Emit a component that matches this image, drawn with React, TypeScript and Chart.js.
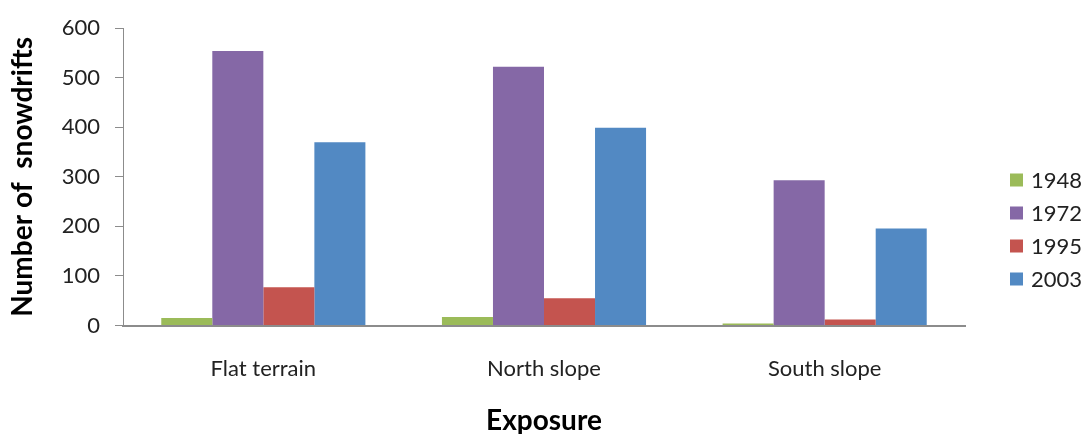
import React, { useEffect, useRef } from "react";
import { Chart, registerables } from "chart.js";

Chart.register(...registerables);

const categories = ["Flat terrain", "North slope", "South slope"];
const seriesLabels = ["1948", "1972", "1995", "2003"];
const values1948 = [15, 17, 4];
const values1972 = [554, 522, 293];
const values1995 = [77, 55, 12];
const values2003 = [370, 399, 196];
const seriesColors = ["#9BBB59", "#8568A6", "#C4544F", "#5289C3"];
const yTicks = [0, 100, 200, 300, 400, 500, 600];

const FONT = "Lato, 'Open Sans', sans-serif";
const AXIS_COLOR = "#8c8c8c";

// Vertical legend drawn in the space to the right of the plot
const sideLegend = {
  id: "sideLegend",
  afterDraw(chart: any) {
    const { ctx } = chart;
    ctx.save();
    ctx.font = `22px ${FONT}`;
    ctx.textBaseline = "middle";
    ctx.textAlign = "left";
    chart.data.datasets.forEach((ds: any, i: number) => {
      const cy = 180 + i * 33;
      ctx.fillStyle = ds.backgroundColor;
      ctx.fillRect(1010, cy - 6.5, 13, 13);
      ctx.fillStyle = "#222";
      ctx.fillText(ds.label, 1031, cy + 1);
    });
    ctx.restore();
  },
};

export default function App() {
  const ref = useRef<HTMLCanvasElement>(null);

  useEffect(() => {
    const values = [values1948, values1972, values1995, values2003];
    const chart = new Chart(ref.current!, {
      type: "bar",
      data: {
        labels: categories,
        datasets: seriesLabels.map((label, i) => ({
          label,
          data: values[i],
          backgroundColor: seriesColors[i],
          borderWidth: 0,
          categoryPercentage: 4 / 5.5,
          barPercentage: 1,
        })),
      },
      options: {
        animation: false,
        responsive: false,
        devicePixelRatio: 1,
        layout: { padding: { top: 25, right: 120, left: 0, bottom: 0 } },
        plugins: {
          legend: { display: false },
          tooltip: { enabled: false },
        },
        scales: {
          x: {
            grid: { display: false, drawTicks: false },
            border: { display: true, color: AXIS_COLOR, width: 2 },
            ticks: {
              color: "#222",
              font: { family: FONT, size: 22 },
              padding: 30,
            },
            title: {
              display: true,
              text: "Exposure",
              color: "#000",
              font: { family: FONT, size: 28, weight: "bold", lineHeight: 0.9 },
              padding: { top: 0, bottom: 0 },
            },
            afterFit(scale: any) {
              scale.height = 108.5;
            },
          },
          y: {
            min: 0,
            max: 600,
            afterBuildTicks(scale: any) {
              scale.ticks = yTicks.map((v) => ({ value: v }));
            },
            grid: {
              display: true,
              drawOnChartArea: false,
              drawTicks: true,
              tickLength: 8,
              color: AXIS_COLOR,
              lineWidth: 1,
            },
            border: { display: true, color: AXIS_COLOR, width: 1 },
            ticks: {
              color: "#222",
              font: { family: FONT, size: 22 },
              padding: 15,
            },
            title: {
              display: true,
              text: "Number of  snowdrifts",
              color: "#000",
              font: { family: FONT, size: 28, weight: "bold", lineHeight: 1 },
              padding: { top: 9, bottom: 0 },
            },
            afterFit(scale: any) {
              scale.width = 123;
            },
          },
        },
      },
      plugins: [sideLegend],
    });
    return () => chart.destroy();
  }, []);

  return (
    <div style={{ position: "fixed", left: 0, top: 0, width: 1085, height: 434, background: "#fff" }}>
      <canvas ref={ref} width={1085} height={434} style={{ width: 1085, height: 434 }} />
    </div>
  );
}
